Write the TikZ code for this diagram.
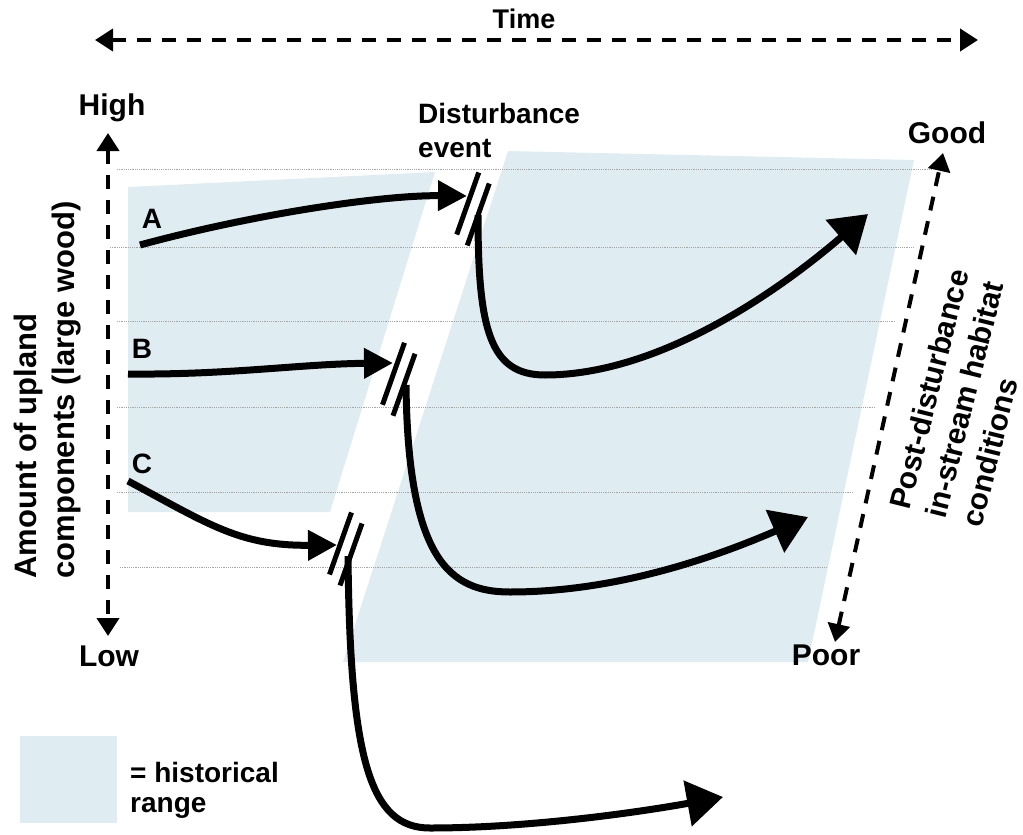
\documentclass[tikz,border=0pt]{standalone}
\usepackage{fontspec}
\setmainfont{Liberation Sans}
\usetikzlibrary{arrows.meta}
\definecolor{histblue}{RGB}{223,237,242}
\definecolor{gridgray}{RGB}{165,165,165}
\begin{document}
\begin{tikzpicture}[x=1pt,y=-1pt,
  lbl/.style={font=\fontsize{30}{37}\selectfont\bfseries, inner sep=0pt},
  lblsm/.style={font=\fontsize{28}{34}\selectfont\bfseries, inner sep=0pt},
  gridline/.style={gridgray, line width=0.9pt, dash pattern=on 1.2pt off 1pt},
  axisarrow/.style={line width=4pt, dash pattern=on 14pt off 11pt,
    {Triangle[length=18pt,width=22pt]}-{Triangle[length=18pt,width=22pt]}},
  inflow/.style={line width=7pt, -{Triangle[length=29pt,width=29pt]}},
  outflow/.style={line width=7pt, -{Triangle[length=36pt,width=45pt]}},
  brk/.pic={
    \draw[line width=5pt] (5.75,-36.5) -- (-16.25,25.5);
    \draw[line width=5pt] (16.25,-25.5) -- (-5.75,36.5);
  }]
\useasboundingbox (0,0) rectangle (1023,835);

% historical range shading
\fill[histblue] (128,187) -- (435,172) -- (330,512) -- (128,512) -- cycle;
\fill[histblue] (508,151) -- (914,160) -- (808,662) -- (343,662) -- cycle;

% thin dotted guide lines
\draw[gridline] (117,169) -- (933,169);
\draw[gridline] (110,247) -- (915,247);
\draw[gridline] (117,321) -- (895,321);
\draw[gridline] (117,407) -- (875,407);
\draw[gridline] (117,492) -- (852,492);
\draw[gridline] (120,567) -- (828,567);

% axes
\coordinate (tL) at (95,40);
\coordinate (tR) at (978,40);
\coordinate (yTop) at (108,133);
\coordinate (yBot) at (108,636);
\coordinate (rBot) at (835,642);
\coordinate (rTop) at (943,153);
\draw[axisarrow] (tL) -- (tR);
\draw[axisarrow] (yTop) -- (yBot);
\draw[axisarrow] (rBot) -- (rTop);

% labels
\node[inner sep=0pt, font=\fontsize{27}{33}\selectfont\bfseries, anchor=base] (time) at (524,28) {Time};
\node[lbl, anchor=base] (high) at (112,115) {High};
\node[lbl, anchor=base] (low) at (109,666) {Low};
\node[lbl, anchor=base] (good) at (947,143) {Good};
\node[lbl, anchor=base] (poor) at (826,665) {Poor};
\node[lblsm, anchor=north west, align=left] (dist) at (418,103) {Disturbance\\event};
\node[lblsm, anchor=base] (la) at (152,228) {A};
\node[lblsm, anchor=base] (lb) at (142,358) {B};
\node[lblsm, anchor=base] (lc) at (142,473) {C};
\node[inner sep=0pt, rotate=90, align=left, font=\fontsize{31}{38}\selectfont\bfseries] (ylab) at (48,390) {Amount of upland\\components (large wood)};
\node[lbl, rotate=76, align=left] (rlab) at (965,398) {Post-disturbance\\in-stream habitat\\conditions};

% legend
\node[fill=histblue, minimum width=97pt, minimum height=87pt, inner sep=0pt] (key) at (68.5,779) {};
\node[inner sep=0pt, font=\fontsize{28}{30}\selectfont\bfseries, anchor=north west, align=left] (keytxt) at (130,762) {= historical\\range};

% trajectory coordinates
\coordinate (A0) at (140,245);
\coordinate (A1) at (467,196);
\coordinate (A2) at (478,215);
\coordinate (A3) at (868,214);
\coordinate (B0) at (128,374);
\coordinate (B1) at (393,363);
\coordinate (B2) at (406,385);
\coordinate (B3) at (808,517);
\coordinate (C0) at (128,481);
\coordinate (C1) at (337,545);
\coordinate (C2) at (348,556);
\coordinate (C3) at (723,797);

% trajectories
\draw[inflow] (A0) .. controls (250,215) and (380,195) .. (A1);
\draw[outflow] (A2) .. controls (478,330) and (490,375) .. (545,375)
  .. controls (660,375) and (780,290) .. (A3);
\draw[inflow] (B0) .. controls (230,375) and (300,364) .. (B1);
\draw[outflow] (B2) .. controls (408,560) and (450,592) .. (510,592)
  .. controls (620,592) and (720,555) .. (B3);
\draw[inflow] (C0) .. controls (210,525) and (240,546) .. (C1);
\draw[outflow] (C2) .. controls (350,760) and (370,828) .. (430,828)
  .. controls (530,828) and (640,812) .. (C3);

% disturbance break marks
\pic at (473,209) {brk};
\pic at (398.75,379.25) {brk};
\pic at (345.75,549) {brk};
\end{tikzpicture}
\end{document}
